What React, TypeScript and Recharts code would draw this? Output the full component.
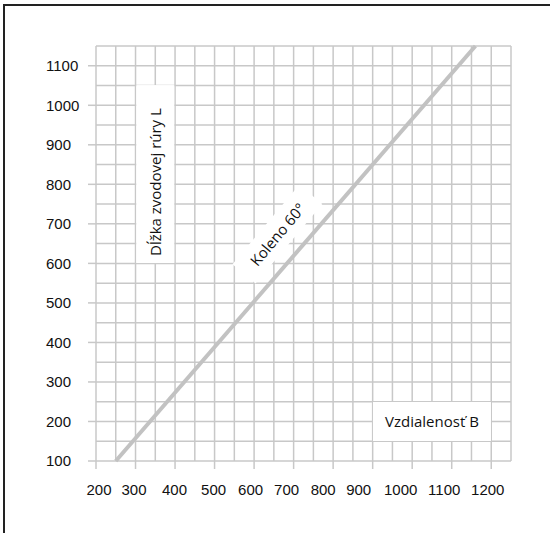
import {
  ComposedChart,
  Line,
  XAxis,
  YAxis,
  ReferenceLine,
  ReferenceDot,
} from "recharts";

const curveB = [250, 1160];
const curveL = [100, 1150];

const xTicks = [200, 300, 400, 500, 600, 700, 800, 900, 1000, 1100, 1200];
const yTicks = [100, 200, 300, 400, 500, 600, 700, 800, 900, 1000, 1100];
const gridX = [200, 250, 300, 350, 400, 450, 500, 550, 600, 650, 700, 750, 800, 850, 900, 950, 1000, 1050, 1100, 1150, 1200, 1250];
const gridY = [100, 150, 200, 250, 300, 350, 400, 450, 500, 550, 600, 650, 700, 750, 800, 850, 900, 950, 1000, 1050, 1100, 1150];

// label nudges as in the original drawing
const xLabelShift = [3, -1.5, -0.5, -1, -3.5, -7, -10, -14, -11.5, -7.5, -3.5];

const GRID = "#c8c8c8";
const CURVE = "#c2c2c2";
const TICK_FONT = "'Liberation Sans', Arial, sans-serif";
const NOTE_FONT = "'Open Sans', 'Noto Sans', sans-serif";

const rows = curveB.map((b, i) => ({ b, l: curveL[i] }));

function XTick(props: any) {
  const { x, y, payload, index } = props;
  return (
    <text
      x={x + (xLabelShift[index] ?? 0)}
      y={y}
      dy="0.71em"
      textAnchor="middle"
      fontSize={15}
      fontFamily={TICK_FONT}
      fill="#111"
    >
      {payload.value}
    </text>
  );
}

function YTick(props: any) {
  const { y, payload } = props;
  return (
    <text
      x={46}
      y={y}
      dy="0.36em"
      textAnchor="start"
      fontSize={15}
      fontFamily={TICK_FONT}
      fill="#111"
    >
      {payload.value}
    </text>
  );
}

// white label box, drawn on top of the grid
function noteBox(text: string, w: number, h: number, angle: number, textX = 0, textY = 0) {
  return (p: any) => (
    <g transform={`rotate(${angle} ${p.cx} ${p.cy})`}>
      <rect x={p.cx - w / 2} y={p.cy - h / 2} width={w} height={h} fill="#fff" />
      <text
        x={p.cx + textX}
        y={p.cy + textY}
        textAnchor="middle"
        dominantBaseline="central"
        fontSize={15}
        fontFamily={NOTE_FONT}
        fill="#111"
      >
        {text}
      </text>
    </g>
  );
}

export default function App() {
  return (
    <div style={{ position: "absolute", left: 0, top: 0, width: 550, height: 533, background: "#fff" }}>
      <div style={{ position: "absolute", left: 3, top: 4, width: 547, height: 2, background: "#222" }} />
      <div style={{ position: "absolute", left: 3, top: 4, width: 2, height: 529, background: "#222" }} />
      <ComposedChart
        width={550}
        height={533}
        data={rows}
        margin={{ top: 46, right: 39, left: 0, bottom: 0 }}
      >
        <XAxis
          type="number"
          dataKey="b"
          domain={[200, 1250]}
          ticks={xTicks}
          interval={0}
          axisLine={false}
          tickLine={{ stroke: GRID, strokeWidth: 1.5 }}
          tickSize={8}
          tickMargin={15}
          height={72}
          tick={<XTick />}
        />
        <YAxis
          type="number"
          dataKey="l"
          domain={[100, 1150]}
          ticks={yTicks}
          interval={0}
          axisLine={false}
          tickLine={{ stroke: GRID, strokeWidth: 1.5 }}
          tickSize={8}
          width={96}
          tick={<YTick />}
        />
        {gridX.map((v) => (
          <ReferenceLine key={`gx${v}`} x={v} stroke={GRID} strokeWidth={1.5} />
        ))}
        {gridY.map((v) => (
          <ReferenceLine key={`gy${v}`} y={v} stroke={GRID} strokeWidth={1.5} />
        ))}
        <ReferenceDot
          x={350}
          y={826}
          r={0}
          shape={noteBox("Dĺžka zvodovej rúry L", 178, 38, -90, -8, 0)}
        />
        <ReferenceDot x={1050} y={200} r={0} shape={noteBox("Vzdialenosť B", 118, 39, 0)} />
        <ReferenceDot x={659} y={674} r={0} shape={noteBox("Koleno 60°", 104, 30, -50)} />
        <Line
          dataKey="l"
          stroke={CURVE}
          strokeWidth={4}
          dot={false}
          activeDot={false}
          isAnimationActive={false}
        />
      </ComposedChart>
    </div>
  );
}
